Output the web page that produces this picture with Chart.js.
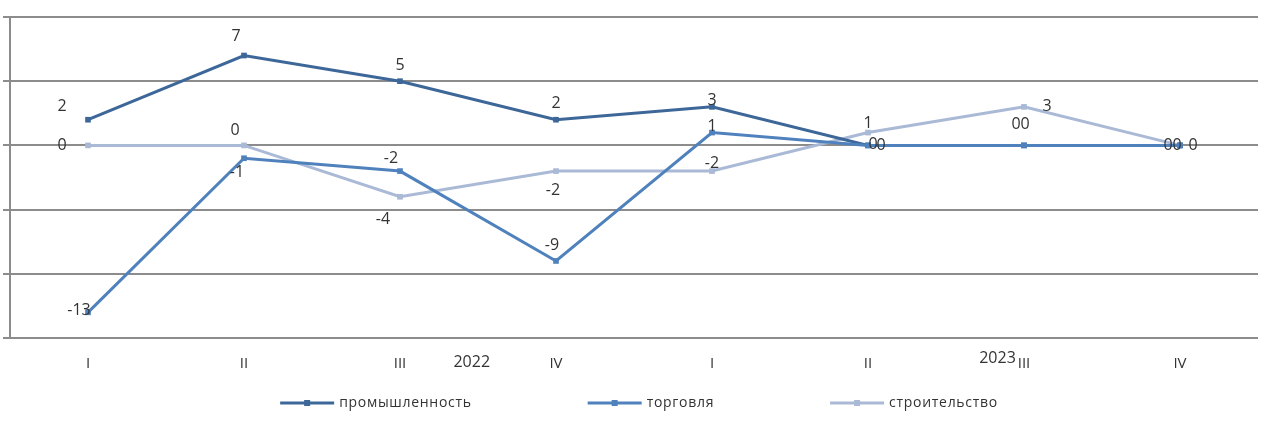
<!DOCTYPE html>
<html>
<head>
<meta charset="utf-8">
<script src="https://cdn.jsdelivr.net/npm/chart.js@4.4.1/dist/chart.umd.min.js"></script>
<style>
  html, body { margin: 0; padding: 0; background: #fff; }
  #wrap { width: 1267px; height: 435px; }
</style>
</head>
<body>
<div id="wrap"><canvas id="chart"></canvas></div>
<script>
// quarters of 2022 and 2023
const QUARTERS = ["I", "II", "III", "IV", "I", "II", "III", "IV"];
const YEARS    = ["2022", "2023"];

const SERIES_NAMES = ["промышленность", "торговля", "строительство"];
const INDUSTRY = [2, 7, 5, 2, 3, 0, 0, 0];
const TRADE    = [-13, -1, -2, -9, 1, 0, 0, 0];
const BUILDING = [0, 0, -4, -2, -2, 1, 3, 0];

const Y_MIN = -15, Y_MAX = 10, Y_STEP = 5;

const COLORS    = ["#3C6798", "#4F81BD", "#A9B9D6"];
const GRID_GRAY = "#8C8C8C";
const TEXT_DARK = "#333333";
const FONT      = '"Open Sans", sans-serif';

// where each value label sits, relative to its point (Excel placed them by hand)
const SHIFT_INDUSTRY = [[-26, -13], [-8, -19], [0, -16], [0, -16], [0, -6], [5, -1], [-8, -21], [-12, 0]];
const SHIFT_TRADE    = [[-9, -2], [-7, 14], [-9, -13], [-4, -16], [0, -6], [13, 0], [1, -21], [-3, 0]];
const SHIFT_BUILDING = [[-26, 0], [-9, -15], [-17, 23], [-3, 19], [0, -8], [0, -9], [23, 0], [13, 0]];

const dataLabels = {
  id: "dataLabels",
  afterDatasetsDraw(chart) {
    const ctx = chart.ctx;
    ctx.save();
    ctx.font = "16px " + FONT;
    ctx.fillStyle = TEXT_DARK;
    ctx.textAlign = "center";
    ctx.textBaseline = "middle";
    chart.data.datasets.forEach((ds, di) => {
      chart.getDatasetMeta(di).data.forEach((pt, i) => {
        const [dx, dy] = ds.labelShift[i];
        ctx.fillText(String(ds.data[i]), pt.x + dx, pt.y + dy);
      });
    });
    ctx.restore();
  },
};

// year captions under the quarter labels
const yearLabels = {
  id: "yearLabels",
  afterDraw(chart) {
    const ctx = chart.ctx, x = chart.scales.x, bottom = chart.chartArea.bottom;
    ctx.save();
    ctx.font = "16px " + FONT;
    ctx.fillStyle = TEXT_DARK;
    ctx.textAlign = "center";
    ctx.textBaseline = "middle";
    ctx.fillText(YEARS[0], x.getPixelForValue(2.46), bottom + 24);
    ctx.fillText(YEARS[1], x.getPixelForValue(5.83), bottom + 20);
    ctx.restore();
  },
};

// legend row: line with a square marker, then the name
const legendRow = {
  id: "legendRow",
  afterDraw(chart) {
    const ctx = chart.ctx, area = chart.chartArea;
    const symW = 54, gap = 5, spacing = 116;
    ctx.save();
    ctx.font = "14px " + FONT;
    ctx.letterSpacing = "0.7px";
    const widths = SERIES_NAMES.map((n) => ctx.measureText(n).width);
    const total = widths.reduce((a, w) => a + symW + gap + w, 0) + spacing * (widths.length - 1);
    let x = (area.left + area.right) / 2 - total / 2 + 5;
    const y = area.bottom + 65;
    ctx.textBaseline = "middle";
    ctx.textAlign = "left";
    SERIES_NAMES.forEach((name, i) => {
      ctx.strokeStyle = COLORS[i];
      ctx.fillStyle = COLORS[i];
      ctx.lineWidth = 3;
      ctx.beginPath();
      ctx.moveTo(x, y);
      ctx.lineTo(x + symW, y);
      ctx.stroke();
      ctx.fillRect(x + symW / 2 - 3, y - 3, 6, 6);
      ctx.fillStyle = TEXT_DARK;
      ctx.fillText(name, x + symW + gap, y);
      x += symW + gap + widths[i] + spacing;
    });
    ctx.restore();
  },
};

function lineSet(label, data, color, shift, order) {
  return {
    label, data, order,
    labelShift: shift,
    borderColor: color,
    backgroundColor: color,
    borderWidth: 3,
    tension: 0,
    pointStyle: "rect",
    pointRadius: 4,
    pointBorderWidth: 0,
    pointBackgroundColor: color,
  };
}

new Chart(document.getElementById("chart"), {
  type: "line",
  data: {
    labels: QUARTERS,
    datasets: [
      lineSet(SERIES_NAMES[0], INDUSTRY, COLORS[0], SHIFT_INDUSTRY, 1),
      lineSet(SERIES_NAMES[1], TRADE, COLORS[1], SHIFT_TRADE, 0),
      lineSet(SERIES_NAMES[2], BUILDING, COLORS[2], SHIFT_BUILDING, 2),
    ],
  },
  options: {
    responsive: true,
    maintainAspectRatio: false,
    animation: false,
    layout: { padding: { left: 3, right: 9, top: 17, bottom: 45 } },
    plugins: {
      legend: { display: false },
      tooltip: { enabled: false },
    },
    scales: {
      x: {
        offset: true,
        grid: { display: false, drawTicks: false },
        border: { display: false },
        ticks: { color: TEXT_DARK, font: { family: FONT, size: 15 }, padding: 17, maxRotation: 0 },
      },
      y: {
        min: Y_MIN,
        max: Y_MAX,
        grid: { color: GRID_GRAY, lineWidth: 2, drawTicks: true, tickLength: 7 },
        border: { display: true, color: GRID_GRAY, width: 2 },
        ticks: { display: false, stepSize: Y_STEP },
      },
    },
  },
  plugins: [dataLabels, yearLabels, legendRow],
});
</script>
</body>
</html>
